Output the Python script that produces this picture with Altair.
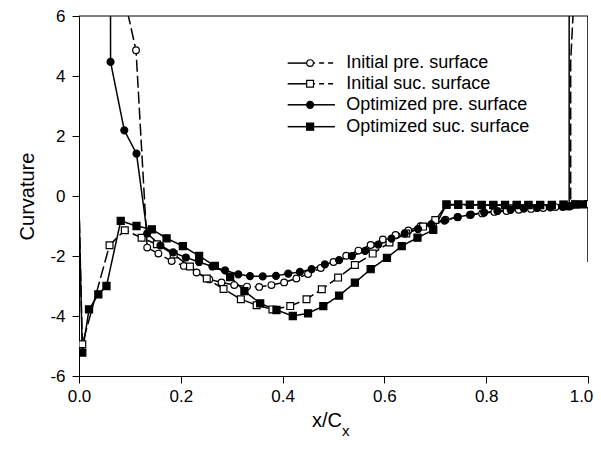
import altair as alt
import pandas as pd

FONT = "Liberation Sans"

series_names = ["Initial pre. surface", "Initial suc. surface",
                "Optimized pre. surface", "Optimized suc. surface"]

# ---- Initial pressure surface (open circles, dashed)
ip_x = [0.112, 0.134, 0.156, 0.182, 0.206, 0.231, 0.256, 0.28, 0.305, 0.33,
        0.354, 0.378, 0.403, 0.427, 0.45, 0.475, 0.5, 0.525, 0.549, 0.573,
        0.597, 0.622, 0.647, 0.671, 0.696, 0.72, 0.744, 0.768, 0.792, 0.816,
        0.84, 0.864, 0.888, 0.912, 0.936, 0.955, 0.966]
ip_y = [4.86, -1.72, -1.92, -2.17, -2.33, -2.55, -2.78, -2.88, -2.97, -3.02,
        -3.03, -2.97, -2.88, -2.75, -2.6, -2.4, -2.2, -1.99, -1.82, -1.63,
        -1.45, -1.3, -1.15, -1.01, -0.9, -0.79, -0.71, -0.63, -0.58, -0.53,
        -0.5, -0.46, -0.43, -0.4, -0.37, -0.35, -0.33]
ip_lead_x, ip_lead_y = [0.0], [13.4]
ip_tail_x, ip_tail_y = [0.966, 0.972], [4.5, 6.5]

# ---- Initial suction surface (open squares, dashed)
is_x = [0.0065, 0.06, 0.09, 0.123, 0.153, 0.186, 0.218, 0.251, 0.284, 0.318,
        0.349, 0.38, 0.415, 0.447, 0.477, 0.509, 0.542, 0.577, 0.61, 0.643,
        0.676, 0.70, 0.722, 0.745, 0.768, 0.791, 0.814, 0.837, 0.86, 0.883,
        0.906, 0.929, 0.952, 0.975, 1.0]
is_y = [-4.94, -1.64, -1.14, -1.39, -1.61, -1.95, -2.35, -2.75, -3.1, -3.44,
        -3.64, -3.78, -3.67, -3.44, -3.11, -2.72, -2.3, -1.92, -1.55, -1.25,
        -1.02, -0.8, -0.3, -0.3, -0.3, -0.3, -0.3, -0.3, -0.3, -0.3,
        -0.3, -0.3, -0.29, -0.28, -0.27]
is_lead_x, is_lead_y = [0.0], [-0.3]
is_tail_x, is_tail_y = [], []

# ---- Optimized pressure surface (filled circles, solid)
op_x = [0.062, 0.089, 0.113, 0.134, 0.16, 0.185, 0.21, 0.236, 0.262, 0.287,
        0.313, 0.336, 0.361, 0.387, 0.411, 0.434, 0.457, 0.483, 0.511, 0.536,
        0.562, 0.588, 0.614, 0.64, 0.666, 0.692, 0.718, 0.744, 0.77, 0.796,
        0.822, 0.848, 0.874, 0.9, 0.926, 0.95, 0.963]
op_y = [4.47, 2.19, 1.41, -1.25, -1.65, -1.88, -2.05, -2.2, -2.35, -2.48,
        -2.61, -2.67, -2.68, -2.66, -2.59, -2.53, -2.44, -2.28, -2.14, -2.0,
        -1.83, -1.62, -1.42, -1.25, -1.1, -0.95, -0.82, -0.7, -0.62, -0.55,
        -0.5, -0.46, -0.42, -0.4, -0.38, -0.36, -0.35]
op_lead_x, op_lead_y = [0.06], [40.0]
op_tail_x, op_tail_y = [0.963], [40.0]

# ---- Optimized suction surface (filled squares, solid)
os_x = [0.0065, 0.0197, 0.038, 0.054, 0.082, 0.113, 0.143, 0.172, 0.204,
        0.236, 0.267, 0.297, 0.325, 0.356, 0.388, 0.42, 0.45, 0.48, 0.511,
        0.542, 0.573, 0.605, 0.634, 0.665, 0.696, 0.722, 0.745, 0.768, 0.791,
        0.814, 0.837, 0.86, 0.883, 0.906, 0.929, 0.952, 0.975, 0.99]
os_y = [-5.22, -3.78, -3.28, -3.0, -0.83, -1.0, -1.11, -1.41, -1.67,
        -2.0, -2.33, -2.7, -3.17, -3.58, -3.8, -4.0, -3.91, -3.67, -3.32,
        -2.89, -2.44, -2.06, -1.67, -1.39, -1.13, -0.28, -0.28, -0.29, -0.3,
        -0.3, -0.3, -0.3, -0.3, -0.3, -0.3, -0.29, -0.28, -0.28]
os_lead_x, os_lead_y = [0.0], [-0.3]
os_tail_x, os_tail_y = [1.0, 1.0, 1.0], [-0.28, -2.2, 40.0]

x_ticks = [0.0, 0.2, 0.4, 0.6, 0.8, 1.0]
y_ticks = [-6, -4, -2, 0, 2, 4, 6]

# legend rows (data units)
leg_y = [4.43, 3.74, 3.04, 2.31]
leg_left_x = [0.41, 0.454]
leg_right_x = [0.454, 0.503]
leg_mark_x = 0.454
leg_text_x = 0.525

# ---------------------------------------------------------------- tables
groups = [
    (ip_lead_x, ip_lead_y, ip_x, ip_y, ip_tail_x, ip_tail_y),
    (is_lead_x, is_lead_y, is_x, is_y, is_tail_x, is_tail_y),
    (op_lead_x, op_lead_y, op_x, op_y, op_tail_x, op_tail_y),
    (os_lead_x, os_lead_y, os_x, os_y, os_tail_x, os_tail_y),
]
rows = []
for name, (lx, ly, mx, my, tx, ty) in zip(series_names, groups):
    i = 0
    for xs, ys, marked in ((lx, ly, False), (mx, my, True), (tx, ty, False)):
        for a, b in zip(xs, ys):
            rows.append({"series": name, "x": a, "y": b, "i": i, "m": marked})
            i += 1
df = pd.DataFrame(rows)
pts = df[df["m"]]


def seg_table(names, ys, xs):
    return pd.DataFrame([
        {"series": n, "x": xv, "y": yv, "i": k}
        for n, yv in zip(names, ys) for k, xv in enumerate(xs)
    ])


leg_left = seg_table(series_names, leg_y, leg_left_x)
leg_right_dashed = seg_table(series_names[:2], leg_y[:2], leg_right_x)
leg_right_solid = seg_table(series_names[2:], leg_y[2:], leg_right_x)
leg_pts = pd.DataFrame({"series": series_names, "x": [leg_mark_x] * 4, "y": leg_y})
leg_txt = pd.DataFrame({"series": series_names, "x": [leg_text_x] * 4, "y": leg_y})

# ---------------------------------------------------------------- encodings
X = alt.X("x:Q", scale=alt.Scale(domain=[0, 1], nice=False, zero=False),
          axis=alt.Axis(values=x_ticks, format=".1f", title=None, labelFlush=False,
                        labelFontSize=17, labelPadding=5, tickSize=7,
                        labelOffset={"condition": {"test": "datum.value == 1", "value": -7},
                                     "value": 0}))
Y = alt.Y("y:Q", scale=alt.Scale(domain=[-6, 6], nice=False, zero=False),
          axis=alt.Axis(values=y_ticks, labelExpr="'' + datum.value", labelFlush=False,
                        title="Curvature", titleFontSize=20, titlePadding=12,
                        titleFontWeight="normal", labelFontSize=17,
                        labelPadding=7, tickSize=7))

dash = alt.StrokeDash("series:N", legend=None,
                      scale=alt.Scale(domain=series_names,
                                      range=[[12, 4], [12, 4], [1, 0], [1, 0]]))
shape = alt.Shape("series:N", legend=None,
                  scale=alt.Scale(domain=series_names,
                                  range=["circle", "square", "circle", "square"]))
fill = alt.Fill("series:N", legend=None,
                scale=alt.Scale(domain=series_names,
                                range=["white", "white", "black", "black"]))
size = alt.Size("series:N", legend=None,
                scale=alt.Scale(domain=series_names, range=[45, 50, 64, 72]))

lines = alt.Chart(df).mark_line(clip=True, color="black", strokeWidth=1.5).encode(
    x=X, y=Y, detail="series:N", order="i:Q", strokeDash=dash)
points = alt.Chart(pts).mark_point(filled=True, stroke="black", strokeWidth=1.2,
                                   opacity=1, clip=True).encode(
    x=X, y=Y, shape=shape, fill=fill, size=size)

top = alt.Chart(pd.DataFrame({"y": [6]})).mark_rule(color="black", strokeWidth=1).encode(y=Y)

lg_left = alt.Chart(leg_left).mark_line(color="black", strokeWidth=1.5).encode(
    x=X, y=Y, detail="series:N", order="i:Q")
lg_rd = alt.Chart(leg_right_dashed).mark_line(color="black", strokeWidth=1.5,
                                              strokeDash=[5, 4]).encode(
    x=X, y=Y, detail="series:N", order="i:Q")
lg_rs = alt.Chart(leg_right_solid).mark_line(color="black", strokeWidth=1.5).encode(
    x=X, y=Y, detail="series:N", order="i:Q")
lg_p = alt.Chart(leg_pts).mark_point(filled=True, stroke="black", strokeWidth=1.2,
                                     opacity=1).encode(
    x=X, y=Y, shape=shape, fill=fill, size=size)
lg_t = alt.Chart(leg_txt).mark_text(align="left", baseline="middle", font=FONT,
                                    fontSize=18, color="black").encode(
    x=X, y=Y, text="series:N")

title_df = pd.DataFrame({"t": ["x/C"], "s": ["x"]})
xt_main = alt.Chart(title_df).mark_text(align="right", baseline="alphabetic", font=FONT,
                                        fontSize=20, color="black").encode(
    x=alt.value(263), y=alt.value(411), text="t:N")
xt_sub = alt.Chart(title_df).mark_text(align="left", baseline="alphabetic", font=FONT,
                                       fontSize=15, color="black").encode(
    x=alt.value(263), y=alt.value(420), text="s:N")

chart = alt.layer(lines, points, top, lg_left, lg_rd, lg_rs, lg_p, lg_t,
                  xt_main, xt_sub).properties(
    width=509, height=360,
    autosize=alt.AutoSizeParams(type="none"),
    padding={"left": 71, "top": 8, "right": 5, "bottom": 64},
).configure_view(stroke=None).configure_axis(
    grid=False, domainColor="black", domainWidth=1, tickColor="black", tickWidth=1,
    labelColor="black", labelFont=FONT, titleFont=FONT, titleColor="black",
)

chart.save("out.html", embed_options={"renderer": "svg", "actions": False})
